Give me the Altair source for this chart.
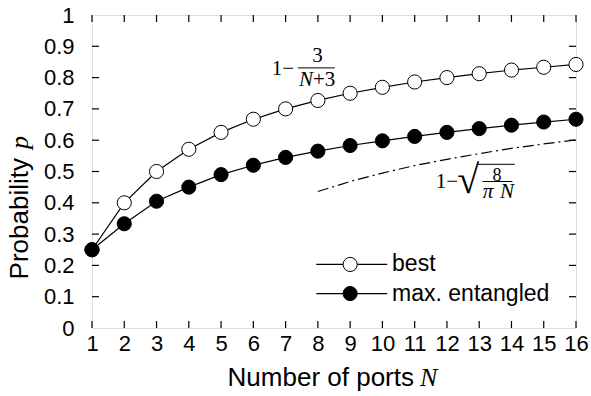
import altair as alt
import pandas as pd

# ---------------- data ----------------
ports = list(range(1, 17))
best = [0.25, 0.40, 0.50, 0.571, 0.625, 0.667, 0.70, 0.727, 0.75, 0.769,
        0.786, 0.80, 0.8125, 0.824, 0.833, 0.842]
max_ent = [0.25, 0.333, 0.405, 0.45, 0.49, 0.52, 0.545, 0.565, 0.583, 0.598,
           0.612, 0.625, 0.637, 0.648, 0.658, 0.667]
asym_ports = [8, 9, 10, 11, 12, 13, 14, 15, 16]
asym_p = [0.436, 0.468, 0.495, 0.519, 0.539, 0.557, 0.574, 0.588, 0.601]

series_names = ["best", "max. entangled"]
x_tick_values = list(range(1, 17))
y_tick_values = [0, 0.1, 0.2, 0.3, 0.4, 0.5, 0.6, 0.7, 0.8, 0.9, 1]
y_minor = [0.1, 0.2, 0.3, 0.4, 0.5, 0.6, 0.7, 0.8, 0.9]

W, H = 484, 313
SANS = "Liberation Sans"
SERIF = "Liberation Serif"

df = pd.DataFrame({
    "N": ports * 2,
    "p": best + max_ent,
    "series": [series_names[0]] * 16 + [series_names[1]] * 16,
})
asym = pd.DataFrame({"N": asym_ports, "p": asym_p})

xs = alt.Scale(domain=[1, 16], nice=False, zero=False)
ys = alt.Scale(domain=[0, 1], nice=False)
xaxis = alt.Axis(values=x_tick_values, format="d", title=None, labelPadding=5,
                 labelFontSize=22, labelFont=SANS, labelColor="black",
                 ticks=False, domain=False, grid=False, labelFlush=False)
yaxis = alt.Axis(values=y_tick_values, format="~g", title=None, labelPadding=18,
                 labelFontSize=22, labelFont=SANS, labelColor="black",
                 ticks=False, domain=False, grid=False, labelFlush=False)
X = alt.X("N:Q", scale=xs, axis=xaxis)
Y = alt.Y("p:Q", scale=ys, axis=yaxis)

fill_scale = alt.Scale(domain=series_names, range=["white", "black"])

lines = alt.Chart(df).mark_line(color="black", strokeWidth=1.2).encode(
    x=X, y=Y, detail="series:N")
asym_line = alt.Chart(asym).mark_line(
    color="black", strokeWidth=1.2, strokeDash=[11, 4, 2, 4]).encode(x=X, y=Y)
points = alt.Chart(df).mark_point(
    shape="circle", size=200, filled=True, stroke="black", strokeWidth=1,
    opacity=1).encode(
    x=X, y=Y, fill=alt.Fill("series:N", scale=fill_scale, legend=None))

# ---------------- inward ticks on all four sides ----------------
xt = pd.DataFrame({"N": x_tick_values})
yt = pd.DataFrame({"p": y_minor})
tick_style = dict(color="black", strokeWidth=1.2)
xt_bottom = alt.Chart(xt).mark_rule(**tick_style).encode(
    x=X, y=alt.value(H), y2=alt.value(H - 7))
xt_top = alt.Chart(xt).mark_rule(**tick_style).encode(
    x=X, y=alt.value(0), y2=alt.value(7))
yt_left = alt.Chart(yt).mark_rule(**tick_style).encode(
    y=Y, x=alt.value(0), x2=alt.value(7))
yt_right = alt.Chart(yt).mark_rule(**tick_style).encode(
    y=Y, x=alt.value(W), x2=alt.value(W - 7))

# ---------------- legend (drawn inside the plot) ----------------
leg = pd.DataFrame({"series": series_names, "p": [0.203, 0.11],
                    "x1": [7.95, 7.95], "x2": [10.15, 10.15],
                    "xm": [9.0, 9.0], "xt": [10.3, 10.3]})
leg_line = alt.Chart(leg).mark_rule(color="black", strokeWidth=1.2).encode(
    x=alt.X("x1:Q", scale=xs, axis=xaxis), x2="x2:Q", y=Y)
leg_pt = alt.Chart(leg).mark_point(
    shape="circle", size=200, filled=True, stroke="black", strokeWidth=1,
    opacity=1).encode(
    x=alt.X("xm:Q", scale=xs, axis=xaxis), y=Y,
    fill=alt.Fill("series:N", scale=fill_scale, legend=None))
leg_txt = alt.Chart(leg).mark_text(
    align="left", baseline="middle", font=SANS, fontSize=23, color="black").encode(
    x=alt.X("xt:Q", scale=xs, axis=xaxis), y=Y, text="series:N")

# ---------------- formula annotations ----------------
def label(txt, x, y, size=21, italic=False, align="center", font=SERIF, angle=0,
          px=False):
    d = pd.DataFrame({"t": [txt], "N": [x], "p": [y]})
    kw = dict(align=align, baseline="middle", font=font, fontSize=size,
              color="black", fontStyle="italic" if italic else "normal")
    if angle:
        kw["angle"] = angle
    m = alt.Chart(d).mark_text(**kw)
    if px:
        return m.encode(x=alt.value(x), y=alt.value(y), text="t:N")
    return m.encode(x=X, y=Y, text="t:N")

def bar(x1, x2, y, w=1.0):
    d = pd.DataFrame({"N": [x1], "N2": [x2], "p": [y]})
    return alt.Chart(d).mark_rule(color="black", strokeWidth=w).encode(
        x=X, x2="N2:Q", y=Y)

f1 = [
    label("1−", 6.92, 0.826),
    label("3", 7.99, 0.868),
    bar(7.38, 8.52, 0.831),
    label("N", 7.85, 0.792, italic=True, align="right"),
    label("+3", 7.85, 0.792, align="left"),
]
f2 = [
    label("1−", 12.0, 0.466),
    label("√", 12.66, 0.47, size=40),
    bar(12.93, 14.1, 0.523),
    label("8", 13.55, 0.487, size=18),
    bar(13.10, 14.03, 0.468),
    label("π", 13.27, 0.436, size=21, italic=True),
    label("N", 13.86, 0.436, size=21, italic=True),
]

# ---------------- axis titles ----------------
titles = [
    label("Number of ports", 414 - 92, 378 - 15, size=26, align="right",
          font=SANS, px=True),
    label("N", 420 - 92, 378 - 15, size=26, align="left", italic=True, px=True),
    label("Probability", 20 - 92, 158 - 15, size=26, align="right",
          font=SANS, angle=270, px=True),
    label("p", 20 - 92, 149 - 15, size=26, align="left", italic=True,
          angle=270, px=True),
]

chart = alt.layer(
    lines, asym_line, points,
    xt_bottom, xt_top, yt_left, yt_right,
    leg_line, leg_pt, leg_txt,
    *f1, *f2, *titles,
).properties(
    width=W, height=H,
    autosize=alt.AutoSizeParams(type="none"),
    padding={"left": 92, "top": 15, "right": 15, "bottom": 68},
).configure_view(
    stroke="black", strokeWidth=1.4
).configure(background="white")

chart.save("out.html", embed_options={"renderer": "svg", "actions": False})
